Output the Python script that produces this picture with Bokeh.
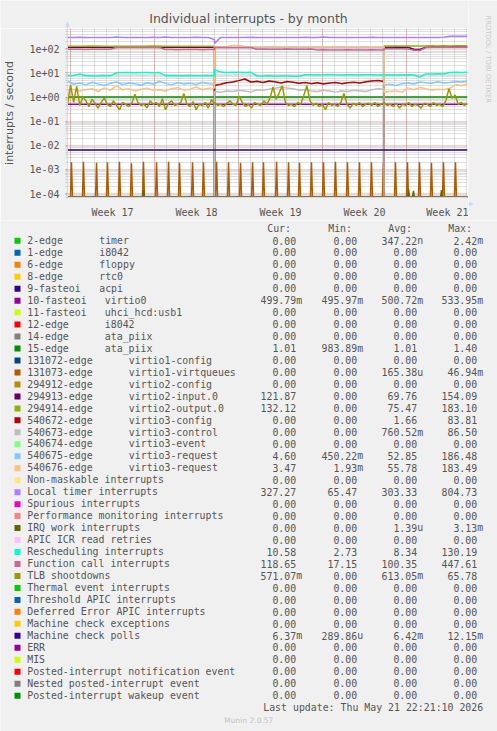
import numpy as np
from bokeh.plotting import figure
from bokeh.models import Range1d, FixedTicker
from bokeh.layouts import column, row
from bokeh.core.properties import value
from bokeh.embed import file_html
from bokeh.resources import INLINE

# ------------------------------------------------------------------ data
# time axis in days from the left edge of the graph (33 1/3 days shown)
DAYS_SHOWN = 400 / 12
SEGMENT_EDGES = [0.0, 12.25, 26.375, DAYS_SHOWN]   # device re-attach events
FIRST_WEEK_START = 0.25
WEEK_LABELS = ["Week 17", "Week 18", "Week 19", "Week 20", "Week 21"]
Y_TICKS = [1e-4, 1e-3, 1e-2, 1e-1, 1.0, 10.0, 100.0]
Y_TICK_LABELS = ["1e-04", "1e-03", "1e-02", "1e-01", "1e+00", "1e+01", "1e+02"]

# each series: values in segment A, B, C (evenly spread within each segment)
VIRTIO0 = ([0.50, 0.50], [0.50, 0.50], [0.50, 0.50])
ATA15 = ([1.01, 1.01], [1.01, 1.01], [1.01, 1.01])
VIRTIO2_IN = ([116, 116, 117, 116, 115, 116, 117, 116, 116, 115, 116, 116, 116],
              [0, 0],
              [117, 117, 118, 117, 116, 95, 93, 116, 118, 119, 120, 121, 121, 122, 122])
VIRTIO2_OUT = ([128, 128, 129, 128, 128, 127, 128, 129, 128, 128, 127, 128, 128],
               [0, 0],
               [130, 131, 130, 131, 130, 131, 130, 131, 132, 131, 132, 131, 132, 132, 132])
V3_CONFIG = ([0, 0],
             [3.0, 3.4, 3.9, 4.2, 4.8, 5.6, 4.2, 4.5, 4.0, 4.6, 4.3, 3.8, 4.4, 4.1, 3.7,
              4.0, 3.6, 3.9, 3.5, 3.8, 4.0, 3.6, 3.9, 4.1, 3.8, 4.3, 4.6, 4.9, 4.4],
             [0, 0])
V3_CONTROL = ([0, 0],
              [1.7, 1.6, 1.8, 1.7, 1.9, 1.8, 1.6, 2.0, 1.9, 2.1, 2.3, 2.6, 2.4, 2.2, 1.9,
               2.0, 1.8, 1.7, 1.9, 1.8, 1.6, 1.8, 1.7, 1.9, 1.8, 1.7, 2.0, 2.2, 2.1],
              [0, 0])
V3_REQUEST_1 = ([4.6, 3.4, 3.8, 3.2, 4.1, 3.5, 3.0, 3.7, 4.2, 3.3, 3.8, 3.6, 3.1, 3.9, 3.4,
                 4.5, 3.6, 3.2, 3.9, 3.5, 3.7, 3.3, 4.0, 3.6, 3.5],
                [112, 113, 112, 113, 112, 114, 113, 112, 113, 112, 113, 112, 111, 112, 113,
                 112, 113, 112, 111, 112, 113, 112, 113, 112, 111, 112, 113, 112, 112],
                [3.2, 3.4, 3.0, 3.6, 3.8, 3.5, 4.2, 3.9, 3.7, 4.3, 3.8, 4.0, 4.4, 4.2, 4.6])
V3_REQUEST_2 = ([1.9, 2.1, 1.8, 2.0, 2.2, 1.7, 2.4, 1.9, 3.0, 2.0, 2.2, 1.8, 2.1, 2.3, 1.9,
                 2.0, 1.8, 2.2, 2.5, 1.9, 2.1, 2.6, 2.0, 2.3, 2.4],
                [120, 121, 122, 138, 136, 124, 122, 121, 122, 121, 123, 122, 121, 122, 120,
                 121, 122, 121, 122, 121, 120, 121, 122, 121, 122, 121, 120, 121, 122],
                [1.6, 1.7, 1.8, 1.6, 2.4, 2.0, 2.5, 2.2, 1.9, 2.1, 2.0, 2.3, 3.2, 3.0, 3.5])
LOCAL_TIMER = ([296, 295, 297, 295, 296, 295, 296, 295, 305, 296, 295, 296, 295, 296, 297,
                295, 310, 296, 295, 296, 295, 297, 296, 295, 240],
               [165, 296, 295, 296, 295, 296, 297, 295, 296, 295, 296, 295, 296, 295, 296,
                300, 296, 295, 306, 296, 295, 296, 295, 296, 295, 296, 297, 295, 296],
               [296, 295, 296, 295, 296, 295, 296, 295, 296, 295, 300, 327, 328, 327, 327])
RESCHED = ([7.6, 7.8, 9.0, 7.6, 7.7, 7.5, 7.8, 7.6, 10.2, 10.4, 10.3, 10.1, 10.3, 10.4, 10.2,
            10.3, 7.7, 7.8, 7.6, 7.7, 7.9, 7.6, 7.7, 7.8, 7.7],
           [13.5, 10.8, 10.5, 10.7, 10.6, 10.5, 10.6, 7.5, 7.4, 7.6, 7.3, 7.5, 7.4, 7.2, 7.3,
            8.4, 8.5, 8.3, 8.4, 8.6, 8.4, 8.3, 8.5, 8.4, 8.3, 8.4, 8.5, 8.3, 8.4],
           [8.3, 8.4, 8.3, 8.2, 8.4, 8.3, 6.8, 9.1, 9.0, 9.2, 9.1, 10.5, 10.6, 10.4, 10.6])
FUNC_CALL = ([95, 96, 95, 94, 96, 95, 95, 96, 113, 114, 113, 112, 114, 113, 114, 113,
              93, 94, 92, 93, 94, 93, 92, 93, 94],
             [113, 114, 113, 114, 113, 114, 113, 96, 97, 96, 95, 96, 97, 96, 95, 96, 97,
              90, 91, 90, 89, 90, 91, 90, 89, 90, 91, 90, 90],
             [100, 102, 101, 100, 99, 86, 85, 112, 116, 117, 116, 118, 117, 118, 119])
TLB = ([0.5, 3.2, 0.6, 2.8, 0.45, 1.0, 0.7, 0.4, 0.8, 0.55, 0.35, 0.6, 0.9, 0.5, 0.4, 0.7,
        0.45, 0.3, 0.6, 0.5, 0.4, 0.55, 1.3, 0.6, 0.45, 0.5, 0.35, 0.7, 0.5, 0.6, 0.4, 0.85,
        0.3, 0.55, 0.7, 0.45, 0.5, 0.6, 1.4, 0.5, 0.4, 0.65, 0.3, 0.5, 0.45, 0.6, 0.35, 0.8, 0.5],
       [0.6, 0.45, 0.5, 0.4, 0.55, 0.7, 0.5, 0.45, 1.1, 0.6, 0.4, 0.5, 0.35, 0.6, 0.5, 0.45,
        0.7, 0.5, 0.9, 2.6, 0.8, 1.5, 2.9, 0.6, 0.45, 0.5, 0.4, 0.6, 0.5, 1.2, 3.0, 0.7, 0.45,
        0.55, 0.4, 0.5, 0.3, 0.6, 0.45, 0.5, 0.4, 0.6, 1.4, 0.5, 0.35, 0.55, 0.45, 0.6, 0.4,
        0.5, 0.55, 0.45, 0.6, 0.4, 0.5, 0.55],
       [0.6, 0.45, 0.5, 0.4, 0.55, 0.35, 0.5, 0.45, 0.6, 0.4, 0.5, 0.45, 0.35, 0.55, 0.5, 0.4,
        0.6, 0.45, 0.5, 0.4, 0.7, 2.2, 0.9, 1.2, 0.5, 0.6, 0.45, 0.55])
MC_POLLS = ([0.0064, 0.0064], [0.0064, 0.0064], [0.0064, 0.0064])

# short bursts (day, peak rate)
VIRTQUEUE_SPIKE_DAYS = [0.33, 1.33, 2.42, 3.33, 4.33, 5.33, 6.33, 7.42, 8.42, 9.33, 10.42,
                        11.33, 12.42, 13.42, 14.42, 15.42, 16.33, 17.42, 18.42, 19.33, 20.33,
                        21.33, 22.33, 23.33, 24.33, 25.33, 26.33, 27.33, 28.33, 29.33, 30.33,
                        31.33, 32.33]
VIRTQUEUE_SPIKE_PEAKS = [2.0e-3, 2.1e-3, 1.9e-3, 2.0e-3, 2.1e-3, 1.8e-3, 2.1e-3, 2.0e-3,
                         2.1e-3, 1.9e-3, 2.0e-3, 2.0e-3, 2.1e-3, 2.0e-3, 1.9e-3, 2.0e-3,
                         2.0e-3, 2.1e-3, 2.0e-3, 1.9e-3, 2.0e-3, 2.0e-3, 2.1e-3, 2.0e-3,
                         2.0e-3, 2.0e-3, 2.1e-3, 2.0e-3, 2.0e-3, 2.0e-3, 1.9e-3, 2.0e-3, 2.0e-3]
IRQ_WORK_SPIKE_DAYS = [6.33, 28.42, 28.83, 31.17]
IRQ_WORK_SPIKE_PEAKS = [1.4e-4, 1.5e-4, 1.3e-4, 1.4e-4]

# legend
LEG_NAMES = ["2-edge", "1-edge", "6-edge", "8-edge", "9-fasteoi", "10-fasteoi", "11-fasteoi",
             "12-edge", "14-edge", "15-edge", "131072-edge", "131073-edge", "294912-edge",
             "294913-edge", "294914-edge", "540672-edge", "540673-edge", "540674-edge",
             "540675-edge", "540676-edge", "Non-maskable interrupts", "Local timer interrupts",
             "Spurious interrupts", "Performance monitoring interrupts", "IRQ work interrupts",
             "APIC ICR read retries", "Rescheduling interrupts", "Function call interrupts",
             "TLB shootdowns", "Thermal event interrupts", "Threshold APIC interrupts",
             "Deferred Error APIC interrupts", "Machine check exceptions", "Machine check polls",
             "ERR", "MIS", "Posted-interrupt notification event",
             "Nested posted-interrupt event", "Posted-interrupt wakeup event"]
LEG_DEVICES = ["timer", "i8042", "floppy", "rtc0", "acpi", "virtio0", "uhci_hcd:usb1", "i8042",
               "ata_piix", "ata_piix", "virtio1-config", "virtio1-virtqueues", "virtio2-config",
               "virtio2-input.0", "virtio2-output.0", "virtio3-config", "virtio3-control",
               "virtio3-event", "virtio3-request", "virtio3-request"] + [""] * 19
LEG_COLORS = ["#00CC00", "#0066B3", "#FF8000", "#FFCC00", "#330099", "#990099", "#CCFF00",
              "#FF0000", "#808080", "#008F00", "#00487D", "#B35A00", "#B38F00", "#6B006B",
              "#8FB300", "#B30000", "#BEBEBE", "#80FF80", "#80C9FF", "#FFC080", "#FFE680",
              "#AA80FF", "#EE00CC", "#FF8080", "#666600", "#FFBFFF", "#00FFCC", "#CC6699",
              "#999900", "#00CC00", "#0066B3", "#FF8000", "#FFCC00", "#330099", "#990099",
              "#CCFF00", "#FF0000", "#808080", "#008F00"]
CUR = ["0.00", "0.00", "0.00", "0.00", "0.00", "499.79m", "0.00", "0.00", "0.00", "1.01",
       "0.00", "0.00", "0.00", "121.87", "132.12", "0.00", "0.00", "0.00", "4.60", "3.47",
       "0.00", "327.27", "0.00", "0.00", "0.00", "0.00", "10.58", "118.65", "571.07m", "0.00",
       "0.00", "0.00", "0.00", "6.37m", "0.00", "0.00", "0.00", "0.00", "0.00"]
MIN = ["0.00", "0.00", "0.00", "0.00", "0.00", "495.97m", "0.00", "0.00", "0.00", "983.89m",
       "0.00", "0.00", "0.00", "0.00", "0.00", "0.00", "0.00", "0.00", "450.22m", "1.93m",
       "0.00", "65.47", "0.00", "0.00", "0.00", "0.00", "2.73", "17.15", "0.00", "0.00",
       "0.00", "0.00", "0.00", "289.86u", "0.00", "0.00", "0.00", "0.00", "0.00"]
AVG = ["347.22n", "0.00", "0.00", "0.00", "0.00", "500.72m", "0.00", "0.00", "0.00", "1.01",
       "0.00", "165.38u", "0.00", "69.76", "75.47", "1.66", "760.52m", "0.00", "52.85", "55.78",
       "0.00", "303.33", "0.00", "0.00", "1.39u", "0.00", "8.34", "100.35", "613.05m", "0.00",
       "0.00", "0.00", "0.00", "6.42m", "0.00", "0.00", "0.00", "0.00", "0.00"]
MAX = ["2.42m", "0.00", "0.00", "0.00", "0.00", "533.95m", "0.00", "0.00", "0.00", "1.40",
       "0.00", "46.94m", "0.00", "154.09", "183.10", "83.81", "86.50", "0.00", "186.48", "183.49",
       "0.00", "804.73", "0.00", "0.00", "3.13m", "0.00", "130.19", "447.61", "65.78", "0.00",
       "0.00", "0.00", "0.00", "12.15m", "0.00", "0.00", "0.00", "0.00", "0.00"]
LAST_UPDATE = "Last update: Thu May 21 22:21:10 2026"

SEGMENT_SERIES = {5: VIRTIO0, 9: ATA15, 13: VIRTIO2_IN, 14: VIRTIO2_OUT, 15: V3_CONFIG,
                  16: V3_CONTROL, 18: V3_REQUEST_1, 19: V3_REQUEST_2, 21: LOCAL_TIMER,
                  26: RESCHED, 27: FUNC_CALL, 28: TLB, 33: MC_POLLS}
SPIKE_SERIES = {11: (VIRTQUEUE_SPIKE_DAYS, VIRTQUEUE_SPIKE_PEAKS),
                24: (IRQ_WORK_SPIKE_DAYS, IRQ_WORK_SPIKE_PEAKS)}

# ------------------------------------------------------------------ styling / layout constants
BG = "#F0F0F0"
FONT_COL = "#555555"
AXIS_COL = "#CFD6F8"
MONO = "DejaVu Sans Mono"
SANS = "DejaVu Sans"
Y_LO, Y_HI = 100 * 10 ** (-154 / 25), 100 * 10 ** (21 / 25)
PAGE_W, PAGE_H = 497, 731
LEFT_W = 468         # width of title strip and chart
TITLE_H = 28         # title strip height (= chart frame top)
TOP_H = 220          # title + chart height; the legend strip fills the rest


def segment_xy(segs):
    xs, ys = [], []
    for i, vals in enumerate(segs):
        xs.extend(np.linspace(SEGMENT_EDGES[i], SEGMENT_EDGES[i + 1], len(vals)))
        ys.extend(vals)
    ys = np.array(ys, dtype=float)
    return np.array(xs), np.where(ys > 0, ys, Y_LO)


def spike_xy(days, peaks, half=1 / 12):
    xs, ys = [0.0], [0.0]
    for d, pk in zip(days, peaks):
        xs += [d - half, d, d + half]
        ys += [0.0, pk, 0.0]
    xs.append(DAYS_SHOWN)
    ys.append(0.0)
    ys = np.array(ys)
    return np.array(xs), np.where(ys > 0, ys, Y_LO)


def strip(w, h, x0, y0):
    """A plain figure whose data coordinates are page pixels."""
    f = figure(width=w, height=h, x_range=Range1d(x0, x0 + w), y_range=Range1d(y0 + h, y0),
               x_axis_type=None, y_axis_type=None, output_backend="svg",
               toolbar_location=None, min_border=0)
    f.background_fill_color = BG
    f.border_fill_color = BG
    f.outline_line_color = None
    f.grid.visible = False
    f.frame_align = False
    return f


# ------------------------------------------------------------------ title strip
t = strip(LEFT_W, TITLE_H, 0, 0)
t.text(x=[248.0], y=[18.0], text=["Individual interrupts - by month"], text_align="center",
       text_baseline="middle", text_font=value(SANS), text_font_size="12.5px",
       text_color=FONT_COL)
t.patch(x=[64.5, 69.5, 67.0], y=[26.5, 26.5, 20.7], fill_color=AXIS_COL, line_color=None)
t.line(x=[67.0, 67.0], y=[26.0, 28.0], line_color=AXIS_COL, line_width=1)

# ------------------------------------------------------------------ chart
p = figure(width=LEFT_W, height=TOP_H - TITLE_H, x_range=Range1d(0, DAYS_SHOWN),
           y_range=Range1d(Y_LO, Y_HI), y_axis_type="log", output_backend="svg",
           toolbar_location=None, min_border_left=67, min_border_right=LEFT_W - 467,
           min_border_top=0, min_border_bottom=17)
p.frame_align = False
p.background_fill_color = "white"
p.border_fill_color = BG
p.outline_line_color = None

minor_y = [m * 10.0 ** e for e in range(-5, 3) for m in range(2, 10) if Y_LO <= m * 10.0 ** e <= Y_HI]
p.yaxis.ticker = FixedTicker(ticks=Y_TICKS, minor_ticks=minor_y)
p.yaxis.major_label_overrides = {tk: s for tk, s in zip(Y_TICKS, Y_TICK_LABELS)}
p.yaxis.major_label_text_font = MONO
p.yaxis.major_label_text_font_size = "10px"
p.yaxis.major_label_text_color = FONT_COL
p.yaxis.axis_line_color = AXIS_COL
p.yaxis.major_tick_line_color = "#AAAAAA"
p.yaxis.minor_tick_line_color = "#CCCCCC"
p.yaxis.major_tick_out = 2
p.yaxis.major_tick_in = 0
p.yaxis.minor_tick_out = 2
p.yaxis.minor_tick_in = 0
p.yaxis.major_label_standoff = 6
p.yaxis.axis_label = "interrupts / second"
p.yaxis.axis_label_text_font = SANS
p.yaxis.axis_label_text_font_size = "11px"
p.yaxis.axis_label_text_font_style = "normal"
p.yaxis.axis_label_text_color = FONT_COL
p.yaxis.axis_label_standoff = 10

week_starts = [FIRST_WEEK_START + 7 * k for k in range(len(WEEK_LABELS))]
week_mid = [w + 3.5 for w in week_starts]
day_lines = [FIRST_WEEK_START + d for d in range(0, 34) if FIRST_WEEK_START + d < DAYS_SHOWN]
p.xaxis.ticker = FixedTicker(ticks=week_mid)
p.xaxis.major_label_overrides = {tk: s for tk, s in zip(week_mid, WEEK_LABELS)}
p.xaxis.major_label_text_font = MONO
p.xaxis.major_label_text_font_size = "10px"
p.xaxis.major_label_text_color = FONT_COL
p.xaxis.axis_line_color = AXIS_COL
p.xaxis.major_tick_line_color = None
p.xaxis.minor_tick_line_color = None
p.xaxis.major_label_standoff = 3

xg = p.xgrid[0]
xg.ticker = FixedTicker(ticks=week_starts, minor_ticks=day_lines)
for g in (xg, p.ygrid[0]):
    g.grid_line_color = "#E05050"
    g.grid_line_alpha = 0.55
    g.grid_line_dash = "1 1"
    g.minor_grid_line_color = "#8F8F8F"
    g.minor_grid_line_alpha = 0.55
    g.minor_grid_line_dash = "1 1"

for i, col in enumerate(LEG_COLORS):
    if i in SEGMENT_SERIES:
        xs, ys = segment_xy(SEGMENT_SERIES[i])
    elif i in SPIKE_SERIES:
        xs, ys = spike_xy(*SPIKE_SERIES[i])
    else:
        xs, ys = np.array([0.0, DAYS_SHOWN]), np.array([Y_LO, Y_LO])
    p.line(xs, ys, line_color=col, line_width=1.5)

# ------------------------------------------------------------------ right strip
r = strip(PAGE_W - LEFT_W, TOP_H, LEFT_W, 0)
r.text(x=[487.5], y=[15.0], text=["RRDTOOL / TOBI OETIKER"], angle=-np.pi / 2,
       text_align="left", text_baseline="middle", text_font=value(SANS),
       text_font_size="6.8px", text_color="#C8C8C8")
r.line(x=[467.0, 469.5], y=[203.5, 203.5], line_color=AXIS_COL, line_width=1)
r.patch(x=[468.7, 468.7, 473.5], y=[200.8, 206.0, 203.4], fill_color=AXIS_COL, line_color=None)

# ------------------------------------------------------------------ legend strip
q = strip(PAGE_W, PAGE_H - TOP_H, 0, TOP_H)

ROW0, ROW_STEP = 240.0, 11.97
rows_y = [ROW0 + ROW_STEP * i for i in range(len(LEG_NAMES))]
q.rect(x=[17.0] * len(rows_y), y=[y + 0.3 for y in rows_y], width=6, height=6,
       fill_color=LEG_COLORS, line_color=None)

TXT = dict(text_font=value(MONO), text_font_size="9.9px", text_color=FONT_COL,
           text_baseline="middle")
q.text(x=[26.7] * len(rows_y), y=rows_y, text=LEG_NAMES, text_align="left", **TXT)
dev_x = [98.7 if i < 5 else 104.3 if i < 10 else 128.3 for i in range(len(LEG_DEVICES))]
q.text(x=dev_x, y=rows_y, text=LEG_DEVICES, text_align="left", **TXT)

COL_RIGHT = [295.7, 356.7, 416.7, 476.7]
for cx, head, col in zip(COL_RIGHT, ["Cur:", "Min:", "Avg:", "Max:"], [CUR, MIN, AVG, MAX]):
    nums = [s[:-1] if s[-1].isalpha() else s for s in col]
    units = [s[-1] if s[-1].isalpha() else "" for s in col]
    q.text(x=[cx] * len(nums), y=rows_y, text=nums, text_align="right", **TXT)
    q.text(x=[cx] * len(units), y=rows_y, text=units, text_align="left", **TXT)
    q.text(x=[cx - 29], y=[228.0], text=[head], text_align="left", **TXT)

q.text(x=[482.7], y=[707.3], text=[LAST_UPDATE], text_align="right", **TXT)
q.text(x=[248.3], y=[720.0], text=["Munin 2.0.57"], text_align="center", text_baseline="middle",
       text_font=value(SANS), text_font_size="7.5px", text_color="#C4C4C4")

layout = column(row(column(t, p, spacing=0), r, spacing=0), q, spacing=0)
open("out.html", "w").write(file_html(layout, INLINE))
